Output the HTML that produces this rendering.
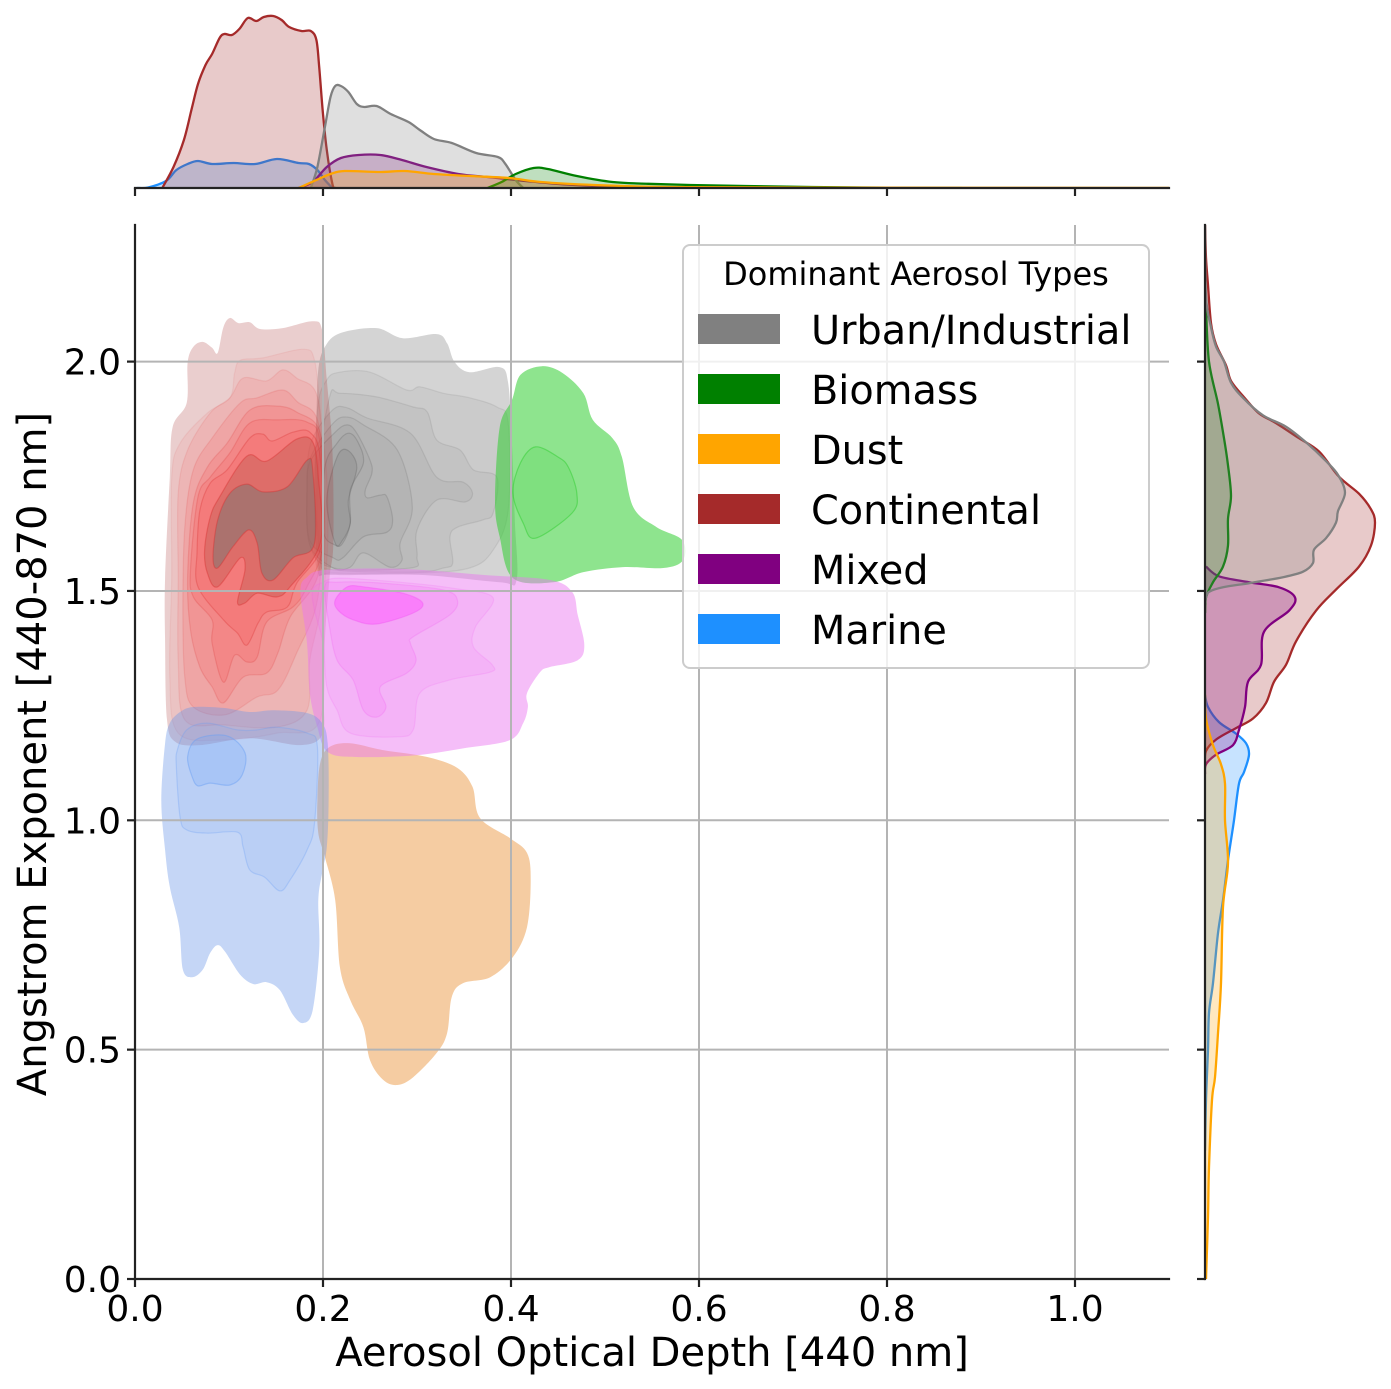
<!DOCTYPE html>
<html lang="en">
<head>
<meta charset="utf-8">
<title>Aerosol type joint KDE</title>
<style>
html,body{margin:0;padding:0;background:#fff;}
svg{display:block;}
text{font-family:"DejaVu Sans","Liberation Sans",sans-serif;fill:#000;}
</style>
</head>
<body>
<svg id="chart" xmlns="http://www.w3.org/2000/svg" width="1391" height="1389" viewBox="0 0 1391 1389">
<defs>
<clipPath id="clip-main"><rect x="135" y="225" width="1034" height="1054"/></clipPath>
<clipPath id="clip-top"><rect x="135" y="0" width="1034" height="188"/></clipPath>
<clipPath id="clip-right"><rect x="1205" y="225" width="186" height="1054"/></clipPath>
</defs>
<g id="contours" clip-path="url(#clip-main)"></g>
<g id="grid"></g>
<g id="top-kde" clip-path="url(#clip-top)"></g>
<g id="right-kde" clip-path="url(#clip-right)"></g>
<g id="axes"></g>
<text x="652" y="1366" font-size="40" text-anchor="middle">Aerosol Optical Depth [440 nm]</text>
<text transform="translate(46,754) rotate(-90)" font-size="40" text-anchor="middle">Angstrom Exponent [440-870 nm]</text>
<g>
<rect x="683" y="245" width="466" height="423" rx="7" fill="#fff" fill-opacity="0.8" stroke="#ccc" stroke-width="2"/>
<text x="916" y="285" font-size="32" text-anchor="middle">Dominant Aerosol Types</text>
<g><rect x="698" y="314" width="82" height="30" fill="#808080"/><text x="811" y="344" font-size="39.8">Urban/Industrial</text></g>
<g><rect x="698" y="374" width="82" height="30" fill="#008000"/><text x="811" y="404" font-size="39.8">Biomass</text></g>
<g><rect x="698" y="434" width="82" height="30" fill="#ffa500"/><text x="811" y="464" font-size="39.8">Dust</text></g>
<g><rect x="698" y="494" width="82" height="30" fill="#a52a2a"/><text x="811" y="524" font-size="39.8">Continental</text></g>
<g><rect x="698" y="554" width="82" height="30" fill="#800080"/><text x="811" y="584" font-size="39.8">Mixed</text></g>
<g><rect x="698" y="614" width="82" height="30" fill="#1e90ff"/><text x="811" y="644" font-size="39.8">Marine</text></g>
</g>
</svg>
<script>
// ---- tick labels ----
const xTicks = [0.0, 0.2, 0.4, 0.6, 0.8, 1.0];
const yTicks = [0.0, 0.5, 1.0, 1.5, 2.0];

// ---- joint KDE contour levels, [aerosol optical depth, angstrom exponent] ----
const urbanLevels = [
[[.202,2.032],[.218,2.062],[.257,2.073],[.285,2.051],[.321,2.060],[.332,2.040],[.340,1.999],[.356,1.977],[.388,1.988],[.397,1.953],[.401,1.822],[.404,1.655],[.406,1.524],[.388,1.519],[.303,1.535],[.207,1.535],[.195,1.546],[.191,1.698],[.193,1.873],[.195,1.982]],
[[.204,1.960],[.218,1.977],[.250,1.977],[.289,1.938],[.303,1.945],[.328,1.931],[.356,1.921],[.385,1.901],[.397,1.866],[.397,1.676],[.381,1.589],[.356,1.550],[.300,1.539],[.211,1.539],[.194,1.546],[.191,1.676],[.194,1.894]],
[[.207,1.923],[.218,1.931],[.257,1.923],[.296,1.901],[.311,1.890],[.321,1.829],[.346,1.807],[.360,1.764],[.385,1.748],[.381,1.670],[.370,1.655],[.343,1.639],[.335,1.618],[.338,1.561],[.328,1.550],[.300,1.541],[.211,1.546],[.197,1.574],[.194,1.748]],
[[.210,1.894],[.226,1.899],[.247,1.877],[.293,1.844],[.321,1.748],[.349,1.737],[.359,1.713],[.351,1.694],[.321,1.698],[.300,1.633],[.300,1.574],[.293,1.550],[.211,1.550],[.186,1.600],[.183,1.720],[.187,1.822]],
[[.211,1.866],[.226,1.879],[.243,1.862],[.279,1.807],[.295,1.683],[.282,1.604],[.284,1.567],[.271,1.552],[.243,1.583],[.229,1.552],[.211,1.550],[.186,1.600],[.183,1.720],[.187,1.792]],
[[.213,1.846],[.226,1.862],[.236,1.844],[.250,1.785],[.252,1.757],[.245,1.720],[.247,1.703],[.261,1.709],[.268,1.705],[.274,1.655],[.268,1.628],[.243,1.618],[.221,1.572],[.211,1.572],[.186,1.610],[.183,1.720],[.187,1.785]],
[[.215,1.822],[.227,1.844],[.237,1.825],[.243,1.779],[.229,1.720],[.229,1.648],[.221,1.604],[.213,1.600],[.200,1.633],[.202,1.770]],
[[.215,1.792],[.226,1.807],[.236,1.770],[.227,1.698],[.229,1.648],[.221,1.611],[.213,1.604],[.204,1.698]]
];
const biomassLevels = [
[[.433,1.990],[.455,1.975],[.477,1.931],[.487,1.873],[.508,1.833],[.518,1.792],[.530,1.683],[.555,1.639],[.582,1.611],[.583,1.567],[.562,1.550],[.519,1.552],[.477,1.541],[.445,1.519],[.402,1.528],[.388,1.618],[.383,1.698],[.388,1.857],[.401,1.916],[.410,1.971]],
[[.426,1.814],[.450,1.792],[.461,1.770],[.470,1.713],[.465,1.670],[.426,1.615],[.413,1.648],[.402,1.713],[.410,1.779]]
];
const dustLevels = [
[[.202,.920],[.213,.826],[.218,.680],[.229,.608],[.243,.549],[.250,.477],[.264,.434],[.279,.423],[.296,.440],[.321,.493],[.332,.536],[.337,.615],[.349,.645],[.378,.658],[.402,.702],[.417,.767],[.421,.870],[.417,.929],[.399,.961],[.367,1.005],[.359,1.073],[.343,1.114],[.311,1.138],[.264,1.153],[.229,1.168],[.207,1.160],[.197,1.125],[.194,1.044],[.195,.972]]
];
const continentalLevels = [
[[.101,2.095],[.110,2.084],[.122,2.086],[.133,2.071],[.157,2.073],[.189,2.088],[.199,2.069],[.204,1.960],[.210,1.807],[.211,1.605],[.207,1.530],[.202,1.393],[.201,1.262],[.199,1.186],[.176,1.164],[.122,1.179],[.069,1.164],[.043,1.171],[.034,1.219],[.032,1.386],[.032,1.530],[.037,1.748],[.040,1.857],[.055,1.910],[.056,1.997],[.062,2.032],[.072,2.043],[.082,2.030],[.088,2.019],[.094,2.075]],
[[.112,2.003],[.136,2.008],[.179,2.027],[.191,2.003],[.197,1.894],[.204,1.748],[.205,1.604],[.200,1.458],[.197,1.219],[.151,1.190],[.094,1.175],[.046,1.190],[.037,1.312],[.039,1.530],[.039,1.748],[.048,1.822],[.077,1.888],[.101,1.921],[.106,1.975]],
[[.157,1.982],[.172,1.964],[.194,1.923],[.200,1.748],[.202,1.604],[.197,1.458],[.186,1.349],[.183,1.240],[.151,1.203],[.094,1.208],[.053,1.219],[.046,1.349],[.046,1.530],[.046,1.713],[.056,1.807],[.080,1.888],[.101,1.921],[.115,1.964],[.140,1.958]],
[[.157,1.938],[.173,1.912],[.195,1.866],[.200,1.676],[.194,1.480],[.172,1.365],[.152,1.284],[.130,1.269],[.096,1.230],[.062,1.247],[.053,1.312],[.051,1.458],[.053,1.639],[.062,1.764],[.083,1.836],[.112,1.910],[.130,1.921]],
[[.151,1.903],[.172,1.890],[.197,1.844],[.200,1.676],[.194,1.530],[.165,1.443],[.152,1.365],[.140,1.321],[.115,1.312],[.094,1.256],[.082,1.291],[.069,1.334],[.059,1.415],[.056,1.530],[.062,1.692],[.077,1.770],[.098,1.822],[.122,1.894]],
[[.151,1.873],[.183,1.868],[.197,1.822],[.200,1.604],[.183,1.509],[.168,1.465],[.140,1.432],[.130,1.356],[.119,1.345],[.106,1.360],[.094,1.301],[.082,1.386],[.082,1.437],[.062,1.487],[.059,1.546],[.067,1.705],[.080,1.748],[.101,1.801],[.122,1.866]],
[[.136,1.842],[.146,1.827],[.168,1.846],[.186,1.846],[.197,1.792],[.199,1.604],[.172,1.517],[.162,1.465],[.140,1.454],[.131,1.430],[.119,1.382],[.109,1.408],[.094,1.437],[.067,1.509],[.066,1.583],[.069,1.676],[.080,1.735],[.098,1.764],[.122,1.833]],
[[.119,1.794],[.140,1.783],[.172,1.831],[.189,1.825],[.195,1.748],[.197,1.604],[.165,1.509],[.151,1.487],[.130,1.495],[.117,1.474],[.109,1.476],[.117,1.546],[.112,1.572],[.088,1.509],[.077,1.539],[.074,1.589],[.080,1.661],[.090,1.705]],
[[.119,1.733],[.136,1.716],[.162,1.727],[.183,1.785],[.189,1.764],[.191,1.604],[.168,1.572],[.147,1.524],[.135,1.539],[.130,1.604],[.121,1.633],[.104,1.596],[.088,1.550],[.083,1.574],[.088,1.655],[.101,1.713]]
];
const mixedLevels = [
[[.176,1.498],[.183,1.530],[.204,1.546],[.285,1.548],[.370,1.535],[.441,1.524],[.465,1.498],[.471,1.448],[.478,1.382],[.471,1.349],[.441,1.334],[.431,1.323],[.417,1.277],[.418,1.247],[.413,1.212],[.399,1.175],[.353,1.158],[.300,1.142],[.236,1.138],[.205,1.149],[.194,1.203],[.186,1.277],[.183,1.386]],
[[.189,1.502],[.200,1.519],[.218,1.528],[.282,1.519],[.338,1.506],[.381,1.485],[.362,1.421],[.360,1.378],[.380,1.339],[.378,1.323],[.335,1.306],[.303,1.277],[.296,1.197],[.279,1.182],[.229,1.190],[.215,1.240],[.204,1.291],[.200,1.386],[.191,1.458]],
[[.202,1.509],[.215,1.519],[.264,1.517],[.328,1.502],[.343,1.480],[.335,1.448],[.296,1.400],[.293,1.386],[.299,1.349],[.289,1.321],[.261,1.291],[.267,1.247],[.257,1.225],[.243,1.240],[.232,1.306],[.215,1.349],[.207,1.421]],
[[.213,1.480],[.226,1.509],[.243,1.509],[.285,1.495],[.306,1.474],[.296,1.452],[.257,1.428],[.232,1.437],[.216,1.458]]
];
const marineLevels = [
[[.037,1.212],[.048,1.236],[.062,1.247],[.094,1.245],[.122,1.236],[.147,1.240],[.183,1.234],[.199,1.212],[.205,1.168],[.206,1.044],[.204,.942],[.199,.885],[.195,.826],[.196,.717],[.189,.586],[.179,.558],[.168,.576],[.154,.630],[.140,.647],[.126,.643],[.112,.663],[.096,.713],[.088,.728],[.080,.711],[.072,.674],[.061,.658],[.051,.674],[.047,.767],[.037,.855],[.032,.935],[.028,1.044],[.032,1.168]],
[[.045,1.153],[.055,1.197],[.077,1.212],[.109,1.197],[.130,1.197],[.151,1.203],[.183,1.190],[.194,1.160],[.191,.994],[.183,.935],[.165,.870],[.154,.846],[.138,.876],[.122,.892],[.115,.942],[.109,.974],[.077,.972],[.055,.979],[.048,1.007],[.044,1.116]],
[[.056,1.138],[.066,1.177],[.098,1.184],[.117,1.147],[.114,1.099],[.101,1.077],[.080,1.081],[.067,1.075],[.061,1.094]]
];

// ---- top marginal KDE: aerosol optical depth and density ----
const topAodMarine = [.002,.014,.033,.044,.056,.067,.082,.105,.128,.151,.174,.185,.194,.202,.210];
const topDensityMarine = [0,.05,.7,1.8,2.4,2.7,2.4,2.5,2.4,2.9,2.5,2.4,1.8,.8,0];
const topAodContinental = [.029,.041,.052,.060,.067,.075,.082,.090,.095,.103,.111,.120,.129,.137,.147,.156,.164,.177,.187,.193,.196,.200,.204,.210,.213];
const topDensityContinental = [0,2.1,4.8,7.8,10.4,12.3,13.4,15.0,15.4,15.3,15.9,17.0,16.7,17.1,17.2,16.8,16.1,15.7,15.7,14.8,12.1,7.4,3.8,.4,0];
const topAodMixed = [.174,.189,.204,.219,.238,.261,.284,.310,.344,.375,.405,.451,.489,.527];
const topDensityMixed = [0,.6,2.1,3.0,3.3,3.3,2.8,2.1,1.4,1.1,.8,.4,.2,0];
const topAodUrban = [.187,.194,.202,.208,.213,.219,.227,.236,.244,.257,.272,.291,.303,.318,.337,.363,.386,.394,.405,.413];
const topDensityUrban = [0,2.1,6.1,9.1,10.2,10.2,9.6,8.4,8.1,8.2,7.4,6.6,5.8,4.9,4.5,3.5,3.1,2.4,.8,0];
const topAodBiomass = [.375,.390,.405,.424,.439,.470,.508,.546,.591,.65,.72,.8,.88];
const topDensityBiomass = [0,.6,1.4,2.0,1.9,1.2,.6,.42,.3,.2,.1,.03,0];
const topAodDust = [.174,.193,.208,.223,.261,.287,.318,.356,.398,.432,.489,.565,.7,1.1];
const topDensityDust = [0,.8,1.4,1.7,1.6,1.7,1.4,1.2,1.0,.6,.3,.1,.05,.01];

// ---- right marginal KDE: angstrom exponent and density ----
const rightAeMarine = [1.273,1.247,1.214,1.189,1.168,1.143,1.105,1.080,1.0,.913,.826,.754,.645,.58,.5,.39,.28];
const rightDensityMarine = [0,.3,1.4,3.1,4.1,4.4,3.9,3.4,2.9,2.3,1.8,1.3,.8,.4,.3,.1,0];
const rightAeContinental = [2.3,2.226,2.167,2.084,2.038,1.992,1.958,1.925,1.887,1.866,1.833,1.804,1.749,1.712,1.678,1.649,1.599,1.553,1.503,1.457,1.390,1.339,1.302,1.256,1.222,1.201,1.176,1.151,1.122];
const rightDensityContinental = [0,.1,.3,.6,1.1,2.1,2.6,3.8,5.4,7.1,9.4,11.4,13.4,15.4,16.6,17.0,16.6,15.4,13.1,11.1,9.1,8.1,6.9,6.1,4.8,3.1,1.1,.1,0];
const rightAeMixed = [1.553,1.532,1.519,1.508,1.486,1.457,1.411,1.339,1.302,1.247,1.197,1.164,1.143,1.122,1.101];
const rightDensityMixed = [.1,1.4,4.4,7.4,9.0,8.4,5.9,5.6,4.3,4.0,3.4,2.8,1.1,.1,0];
const rightAeUrban = [2.3,2.142,2.075,2.033,2.0,1.954,1.921,1.883,1.858,1.824,1.783,1.753,1.714,1.674,1.649,1.615,1.590,1.561,1.542,1.530,1.517,1.508,1.498,1.486,1.473];
const rightDensityUrban = [0,.1,.6,1.1,1.9,2.6,3.8,5.8,8.1,10.1,12.1,13.3,14.0,13.3,13.1,12.1,10.9,10.8,9.8,7.8,4.4,1.8,.4,.1,0];
const rightAeBiomass = [2.117,2.0,1.908,1.833,1.774,1.707,1.657,1.599,1.553,1.519,1.486,1.452];
const rightDensityBiomass = [.1,.4,1.3,1.9,2.3,2.6,2.3,2.3,1.8,.8,.1,0];
const rightAeDust = [1.274,1.222,1.164,1.122,1.080,1.0,.907,.811,.645,.536,.44,.39,.244,.135,0];
const rightDensityDust = [0,.1,.8,1.6,2.0,2.0,2.3,1.8,1.6,1.3,1.0,.7,.4,.3,.1];

// ---- axis functions ----
function xScale(v){ return 135 + v * 940; }
function yScale(v){ return 1279 - v * 458.7; }
function topDensityScale(v){ return 188 - v * 10; }
function rightDensityScale(v){ return 1205 + v * 10; }

const NS = 'http://www.w3.org/2000/svg';
function make(tag, props, parent){
  const el = document.createElementNS(NS, tag);
  for (const k in props) el.setAttribute(k, props[k]);
  parent.appendChild(el);
  return el;
}
function f(n){ return n.toFixed(1); }
function closedSpline(p){
  const n = p.length;
  let d = 'M' + f(p[0][0]) + ' ' + f(p[0][1]);
  for (let i = 0; i < n; i++){
    const a = p[(i - 1 + n) % n], b = p[i], c = p[(i + 1) % n], e = p[(i + 2) % n];
    d += 'C' + f(b[0] + (c[0] - a[0]) / 6) + ' ' + f(b[1] + (c[1] - a[1]) / 6) + ' ' +
         f(c[0] - (e[0] - b[0]) / 6) + ' ' + f(c[1] - (e[1] - b[1]) / 6) + ' ' + f(c[0]) + ' ' + f(c[1]);
  }
  return d + 'Z';
}
function openSpline(p){
  let d = 'M' + f(p[0][0]) + ' ' + f(p[0][1]);
  for (let i = 0; i < p.length - 1; i++){
    const a = p[Math.max(i - 1, 0)], b = p[i], c = p[i + 1], e = p[Math.min(i + 2, p.length - 1)];
    d += 'C' + f(b[0] + (c[0] - a[0]) / 6) + ' ' + f(b[1] + (c[1] - a[1]) / 6) + ' ' +
         f(c[0] - (e[0] - b[0]) / 6) + ' ' + f(c[1] - (e[1] - b[1]) / 6) + ' ' + f(c[0]) + ' ' + f(c[1]);
  }
  return d;
}

// ---- contours ----
const contourGroup = document.getElementById('contours');
function drawLevels(levels, seriesName, fills, opacities, strokeColor, strokeOpacities){
  levels.forEach(function(level, i){
    const pts = level.map(function(q){ return [xScale(q[0]), yScale(q[1])]; });
    const path = make('path', {
      d: closedSpline(pts),
      fill: fills[Math.min(i, fills.length - 1)],
      'fill-opacity': opacities[Math.min(i, opacities.length - 1)],
      stroke: strokeColor,
      'stroke-opacity': strokeOpacities[Math.min(i, strokeOpacities.length - 1)],
      'stroke-width': 1.2
    }, contourGroup);
    
    
  });
}
drawLevels(urbanLevels, 'urban', ['#808080', '#666666', '#666666', '#666666', '#666666', '#666666', '#606060', '#505050'], [.34, .08, .08, .08, .08, .08, .08, .12], '#666', [0, .12, .14, .16, .2, .25, .3, .35]);
drawLevels(biomassLevels, 'biomass', ['#32cd32'], [.55, .16], '#32cd32', [0, .5]);
drawLevels(dustLevels, 'dust', ['#eeaa64'], [.6], '#eeaa64', [0]);
drawLevels(continentalLevels, 'continental', ['#a52a2a', '#ff3c3c', '#ff3c3c', '#ff3c3c', '#ff3c3c', '#ff3c3c', '#ff3c3c', '#be5a50', '#787873'], [.23, .07, .1, .13, .15, .15, .15, .4, .5], '#d83030', [0, .07, .1, .13, .18, .22, .3, .4, .4]);
drawLevels(mixedLevels, 'mixed', ['#eb78f0', '#f06ef5', '#fa64fa', '#ff5aff'], [.48, .12, .18, .5], '#f050f0', [0, .15, .2, .35]);
drawLevels(marineLevels, 'marine', ['#6a95e8', '#6495ed', '#64a0fa'], [.39, .1, .2], '#6aa0f5', [0, .3, .45]);

// ---- grid ----
const gridGroup = document.getElementById('grid');
xTicks.forEach(function(t){
  if (t === 0) return;
  const line = make('line', {x1: xScale(t), x2: xScale(t), y1: 225, y2: 1279, stroke: '#b4b4b4', 'stroke-width': 2}, gridGroup);
  
  
});
yTicks.forEach(function(t){
  if (t === 0) return;
  const line = make('line', {x1: 135, x2: 1169, y1: yScale(t), y2: yScale(t), stroke: '#b4b4b4', 'stroke-width': 2}, gridGroup);
  
  
});

// ---- marginal KDEs ----
const topGroup = document.getElementById('top-kde');
const rightGroup = document.getElementById('right-kde');
function drawTop(aod, density, color, fillOpacity, name){
  const pts = aod.map(function(v, i){ return [xScale(v), topDensityScale(density[i])]; });
  const line = openSpline(pts);
  const fill = make('path', {d: line + 'L' + f(xScale(aod[aod.length - 1])) + ' ' + topDensityScale(0) + 'L' + f(xScale(aod[0])) + ' ' + topDensityScale(0) + 'Z', fill: color, 'fill-opacity': fillOpacity, stroke: 'none'}, topGroup);
  
  
  const stroke = make('path', {d: line, fill: 'none', stroke: color, 'stroke-width': 2.3}, topGroup);
  
  
}
function drawRight(ae, density, color, fillOpacity, name){
  const pts = ae.map(function(v, i){ return [rightDensityScale(density[i]), yScale(v)]; });
  const line = openSpline(pts);
  const fill = make('path', {d: line + 'L' + rightDensityScale(0) + ' ' + f(yScale(ae[ae.length - 1])) + 'L' + rightDensityScale(0) + ' ' + f(yScale(ae[0])) + 'Z', fill: color, 'fill-opacity': fillOpacity, stroke: 'none'}, rightGroup);
  
  
  const stroke = make('path', {d: line, fill: 'none', stroke: color, 'stroke-width': 2.3}, rightGroup);
  
  
}
drawTop(topAodMarine, topDensityMarine, '#1e90ff', .25, 'marine');
drawTop(topAodContinental, topDensityContinental, '#a52a2a', .25, 'continental');
drawTop(topAodMixed, topDensityMixed, '#800080', .25, 'mixed');
drawTop(topAodUrban, topDensityUrban, '#808080', .25, 'urban');
drawTop(topAodBiomass, topDensityBiomass, '#008000', .25, 'biomass');
drawTop(topAodDust, topDensityDust, '#ffa500', .25, 'dust');
drawRight(rightAeMarine, rightDensityMarine, '#1e90ff', .25, 'marine');
drawRight(rightAeContinental, rightDensityContinental, '#a52a2a', .25, 'continental');
drawRight(rightAeMixed, rightDensityMixed, '#800080', .25, 'mixed');
drawRight(rightAeBiomass, rightDensityBiomass, '#008000', .25, 'biomass');
drawRight(rightAeUrban, rightDensityUrban, '#808080', .25, 'urban');
drawRight(rightAeDust, rightDensityDust, '#ffa500', .25, 'dust');

// ---- axes ----
const axesGroup = document.getElementById('axes');
function spine(x1, y1, x2, y2, name){
  const s = make('line', {x1: x1, y1: y1, x2: x2, y2: y2, stroke: '#222', 'stroke-width': 2.2, 'stroke-linecap': 'square'}, axesGroup);
  
  
}
spine(135, 225, 135, 1279, 'main-y-spine');
spine(135, 1279, 1169, 1279, 'main-x-spine');
spine(135, 188, 1169, 188, 'top-marginal-spine');
spine(1205, 225, 1205, 1279, 'right-marginal-spine');
xTicks.forEach(function(t){
  const x = xScale(t);
  const a = make('line', {x1: x, x2: x, y1: 1279, y2: 1287, stroke: '#222', 'stroke-width': 2.2}, axesGroup);
  
  
  const b = make('line', {x1: x, x2: x, y1: 188, y2: 196, stroke: '#222', 'stroke-width': 2.2}, axesGroup);
  
  
  const label = make('text', {x: x, y: 1321, 'font-size': 36, 'text-anchor': 'middle'}, axesGroup);
  label.textContent = t.toFixed(1);
  
  
});
yTicks.forEach(function(t){
  const y = yScale(t);
  const a = make('line', {x1: 127, x2: 135, y1: y, y2: y, stroke: '#222', 'stroke-width': 2.2}, axesGroup);
  
  
  const b = make('line', {x1: 1197, x2: 1205, y1: y, y2: y, stroke: '#222', 'stroke-width': 2.2}, axesGroup);
  
  
  const label = make('text', {x: 121, y: y + 13, 'font-size': 36, 'text-anchor': 'end'}, axesGroup);
  label.textContent = t.toFixed(1);
  
  
});
</script>
</body>
</html>
